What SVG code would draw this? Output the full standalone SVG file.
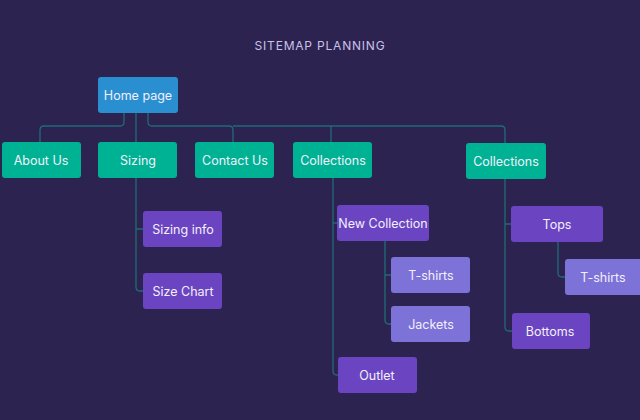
<svg xmlns="http://www.w3.org/2000/svg" width="640" height="420" viewBox="0 0 640 420">
<style>
text{font-family:Inter,"Liberation Sans",sans-serif;font-size:12.5px;fill:#f2f0fa;text-anchor:middle;dominant-baseline:central}
.l{fill:none;stroke:#1f6b78;stroke-width:1.3}
.g{fill:#00b294}.p{fill:#6b44c2}.v{fill:#7d72d8}.b{fill:#2a8fd0}
</style>
<rect width="640" height="420" fill="#2d2350"/>
<text x="320" y="45" style="font-size:12px;fill:#c9c2ea;letter-spacing:0.8px">SITEMAP PLANNING</text>
<g id="connectors">
<path class="l" d="M124 113V122Q124 126 120 126H44Q40 126 40 130V142"/>
<path class="l" d="M136 113V142M136 178V287Q136 291 140 291H143M136 229H143"/>
<path class="l" d="M148 113V122Q148 126 152 126H229Q233 126 233 130V142M233 126H501Q505 126 505 130V143M331 126V142"/>
<path class="l" d="M333 178V371Q333 375 337 375H338M333 223H337"/>
<path class="l" d="M385 241V320Q385 324 389 324H391M385 275H391"/>
<path class="l" d="M505 179V327Q505 331 509 331H512M505 224H511"/>
<path class="l" d="M558 242V273Q558 277 562 277H565"/>
</g>
<g id="home"><rect class="b" x="98" y="77" width="80" height="36" rx="3"/><text x="138" y="95">Home page</text></g>
<g id="about"><rect class="g" x="2" y="142" width="79" height="36" rx="3"/><text x="41" y="160">About Us</text></g>
<g id="sizing"><rect class="g" x="98" y="142" width="79" height="36" rx="3"/><text x="138" y="160">Sizing</text></g>
<g id="contact"><rect class="g" x="195" y="142" width="79" height="36" rx="3"/><text x="235" y="160">Contact Us</text></g>
<g id="collections1"><rect class="g" x="293" y="142" width="79" height="36" rx="3"/><text x="333" y="160">Collections</text></g>
<g id="collections2"><rect class="g" x="466" y="143" width="80" height="36" rx="3"/><text x="506" y="161">Collections</text></g>
<g id="sizinginfo"><rect class="p" x="143" y="211" width="79" height="36" rx="3"/><text x="183" y="229">Sizing info</text></g>
<g id="sizechart"><rect class="p" x="143" y="273" width="79" height="36" rx="3"/><text x="183" y="291">Size Chart</text></g>
<g id="newcollection"><rect class="p" x="337" y="205" width="92" height="36" rx="3"/><text x="383" y="223">New Collection</text></g>
<g id="tshirts1"><rect class="v" x="391" y="257" width="79" height="36" rx="3"/><text x="431" y="275">T-shirts</text></g>
<g id="jackets"><rect class="v" x="391" y="306" width="79" height="36" rx="3"/><text x="431" y="324">Jackets</text></g>
<g id="outlet"><rect class="p" x="338" y="357" width="79" height="36" rx="3"/><text x="377" y="375">Outlet</text></g>
<g id="tops"><rect class="p" x="511" y="206" width="92" height="36" rx="3"/><text x="557" y="224">Tops</text></g>
<g id="tshirts2"><rect class="v" x="565" y="259" width="80" height="36" rx="3"/><text x="603" y="277">T-shirts</text></g>
<g id="bottoms"><rect class="p" x="512" y="313" width="78" height="36" rx="3"/><text x="550" y="331">Bottoms</text></g>
</svg>
